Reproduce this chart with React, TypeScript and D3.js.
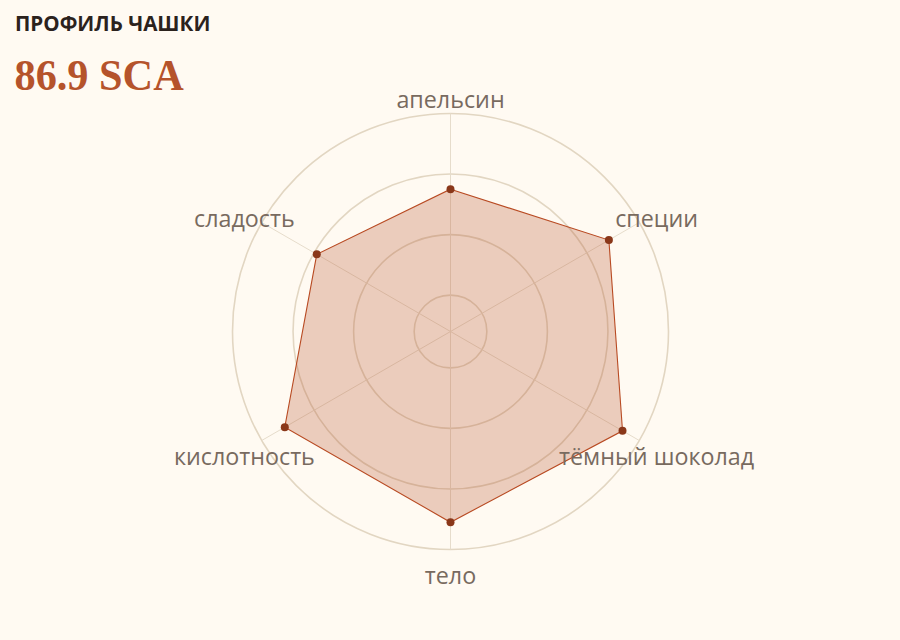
import * as d3 from 'd3';
import React, { useEffect, useRef } from 'react';

const attributes = ['апельсин', 'специи', 'тёмный шоколад', 'тело', 'кислотность', 'сладость'];
const scores = [8.75, 9.42, 9.68, 9.55, 9.56, 8.95];
const ringLevels = [7, 8, 9, 10];
const scaleMin = 6.4;
const scaleMax = 10;
const title = 'ПРОФИЛЬ ЧАШКИ';
const totalScore = '86.9 SCA';

const width = 900;
const height = 640;

const App: React.FC = () => {
    const ref = useRef<SVGSVGElement | null>(null);

    useEffect(() => {
        document.body.style.margin = '0';
        document.body.style.background = '#fffaf2';

        const cx = 450.5;
        const cy = 331.5;
        const outerR = 218;

        const svg = d3.select(ref.current).attr('width', width).attr('height', height);
        svg.selectAll('*').remove();

        svg.append('rect').attr('width', width).attr('height', height).attr('fill', '#fffaf2');

        // Header
        svg.append('text')
            .attr('x', 15)
            .attr('y', 31)
            .style('font-family', '"Open Sans", "Noto Sans", sans-serif')
            .style('font-weight', 700)
            .style('font-size', '20.6px')
            .attr('fill', '#2b221d')
            .text(title);

        svg.append('text')
            .attr('x', 14.5)
            .attr('y', 90)
            .attr('transform', 'translate(0, 90) scale(1, 1.06) translate(0, -90)')
            .style('font-family', '"Liberation Serif", "DejaVu Serif", serif')
            .style('font-weight', 700)
            .style('font-size', '42.3px')
            .attr('fill', '#b5532b')
            .text(totalScore);

        const r = d3.scaleLinear().domain([scaleMin, scaleMax]).range([0, outerR]);
        const angle = d3
            .scaleLinear()
            .domain([0, attributes.length])
            .range([0, 2 * Math.PI]);

        const chart = svg.append('g').attr('transform', `translate(${cx}, ${cy})`);

        // Rings
        chart
            .selectAll('.ring')
            .data(ringLevels)
            .join('circle')
            .attr('class', 'ring')
            .attr('r', (d) => r(d))
            .attr('fill', 'none')
            .attr('stroke', '#e2d6c2')
            .attr('stroke-width', 1.6);

        // Spokes
        chart
            .selectAll('.spoke')
            .data(attributes)
            .join('line')
            .attr('class', 'spoke')
            .attr('x1', 0)
            .attr('y1', 0)
            .attr('x2', (_, i) => outerR * Math.sin(angle(i)))
            .attr('y2', (_, i) => -outerR * Math.cos(angle(i)))
            .attr('stroke', '#e6dccb')
            .attr('stroke-width', 1);

        // Area
        const line = d3
            .lineRadial<number>()
            .angle((_, i) => angle(i))
            .radius((d) => r(d))
            .curve(d3.curveLinearClosed);

        chart
            .append('path')
            .datum(scores)
            .attr('d', line)
            .attr('fill', '#b5532b')
            .attr('fill-opacity', 0.27)
            .attr('stroke', '#b84a22')
            .attr('stroke-width', 1.1);

        chart
            .selectAll('.dot')
            .data(scores)
            .join('circle')
            .attr('class', 'dot')
            .attr('cx', (d, i) => r(d) * Math.sin(angle(i)))
            .attr('cy', (d, i) => -r(d) * Math.cos(angle(i)))
            .attr('r', 4)
            .attr('fill', '#8a3719');

        // Labels
        const labelR = outerR + 20;
        chart
            .selectAll('.label')
            .data(attributes)
            .join('text')
            .attr('class', 'label')
            .attr('x', (_, i) => labelR * Math.sin(angle(i)))
            .attr('y', (_, i) => -labelR * Math.cos(angle(i)))
            .attr('dy', 14)
            .attr('text-anchor', 'middle')
            .style('font-family', '"Open Sans", "Noto Sans", sans-serif')
            .style('font-size', '23.3px')
            .attr('fill', '#786a5f')
            .text((d) => d);
    }, []);

    return <svg ref={ref} style={{ display: 'block' }}></svg>;
};

export default App;
